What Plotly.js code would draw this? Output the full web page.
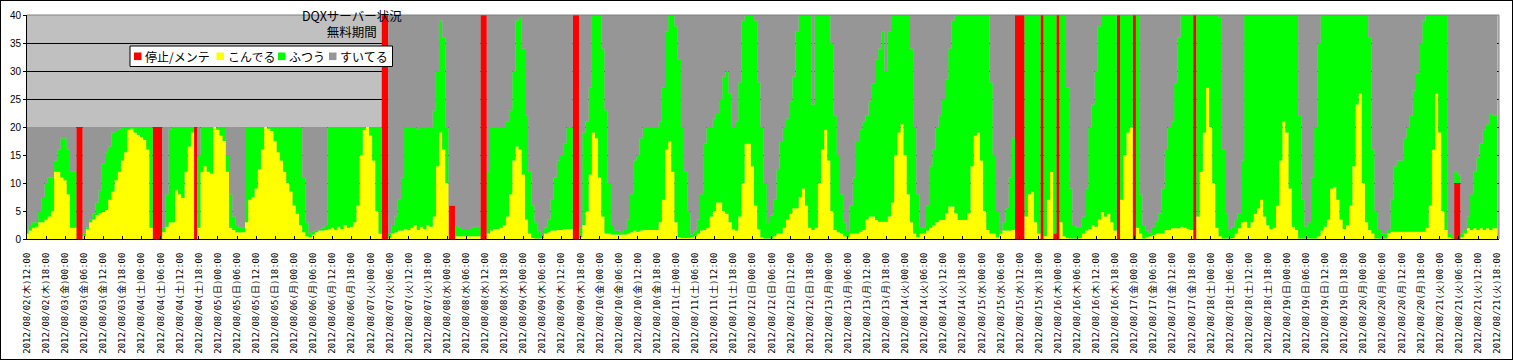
<!DOCTYPE html>
<html><head><meta charset="utf-8">
<script src="https://cdn.plot.ly/plotly-3.0.1.min.js"></script>
<style>
html,body{margin:0;padding:0;background:#fff;}
#wrap{position:relative;width:1513px;height:360px;overflow:hidden;}
#chart{position:absolute;left:0;top:0;width:1513px;height:360px;}
#frame{position:absolute;left:0;top:0;width:1513px;height:360px;box-sizing:border-box;border:1px solid #000;pointer-events:none;}
</style></head><body>
<div id="wrap"><div id="chart"></div><div id="frame"></div></div>
<script>
// ---------- data ----------
const chartTitle = ['DQXサーバー状況', '無料期間'];
const seriesNames = ['停止/メンテ', 'こんでる', 'ふつう', 'すいてる'];
const seriesColors = ['#FF0000', '#FFFF00', '#00FF00', '#969696'];
const startTime = '2012-08-02T12:00:00Z';   // first hourly sample
const weekdayNames = ['日', '月', '火', '水', '木', '金', '土'];
const serverCountBefore = 20;
const serverCountAfter = 40;
const serverIncreaseHour = 112;
const yTickValues = [0, 5, 10, 15, 20, 25, 30, 35, 40];

// こんでる (hourly)
const konderu = [
 1,1.5,2,2.2,3,3,3.5,4,5,12,12,11,10.5,8,2,2,0,0,0.5,1.8,3,3.5,4.3,4.6,
 4.9,5.2,7,8.5,10.5,12,14,15.5,19.5,19.7,19,18.6,18.2,17.7,16,2,0,0,0,1.2,2.2,3,3,8.7,
 8,7.3,12,16.5,19,0,2,12,13,12,11.7,20,19.5,18.5,17.5,12,2,1.6,1.2,1.2,1.2,3,7,7.5,
 9,12.5,16,20,19.7,19.3,17.5,15.5,14,12,10,8.5,6,4.5,2.5,1.2,0.5,0.3,0.8,1.2,1.5,1.5,1.6,1.8,
 2,1.6,2.2,1.8,2.5,2,2.2,3,6,15,19.5,20,18.5,14,5,1,0,0,0.2,1,1.2,1.5,1.5,1.8,
 1.6,2,2.5,1.6,2.2,1.8,2.5,2.2,4,13,19,16,10,0,0,0.5,0.5,0.5,0.5,0.5,0.5,0.5,0.5,0,
 0,1,1.5,1.8,1.8,2,2.5,4,8,14,16.5,16,11.5,3.5,1,0.2,0.1,0.1,0.2,1,1.2,1.5,1.5,1.6,
 1.6,1.8,1.8,1.8,0,0,0.3,2.5,5,11.5,19,18,11,4,1,1,0.8,0.8,0.8,0.8,0.8,1,1.2,1.5,
 1.3,1.5,1.6,1.6,1.6,1.6,1.6,3,7,16,17.5,12,3,0.3,0.2,0.2,0.2,0.3,0.5,1,1.5,1.6,2,4,
 5,6.5,6.5,5,4.5,3,1.8,1.5,4,10,17,17,13,6,1.8,0.3,0.1,0.1,0.1,0.5,1,1,2,3.5,
 4.5,5.5,5.5,7.5,9,6,2,1.6,2,10,16,19.5,14,5,1.6,1.2,1,0.5,0.3,1,1,1,1.3,1.6,
 3.5,4,4,3.4,3.1,3.1,3.1,4,6.5,15,19,20.5,15,8,3,1,0.3,1,1,1.5,2,2.5,3,3.4,
 3.4,4.6,5.8,5.8,4.6,3.4,3.4,3.4,4.6,13,18.5,19,14,5,1.6,1,1,0.3,1,1.5,1.5,1.5,1.6,0,
 0,0,4,8,8.5,3,1,0,0.5,7,12,0,0,3,0.5,0.2,0.1,0.1,0.1,0.2,1,1.5,1.8,2.5,
 2.2,3.5,4.8,4,4.5,3,1.5,0,7,15,19,20,0,2,1,0.1,0.3,0.5,0.7,1,1,1,1.6,1.6,
 1.9,1.9,1.9,2.2,2,1.8,1.6,0,4,12,19,27,20,10,2,0.5,0.1,0.1,0.1,0.2,1,1.9,3,3.1,
 2,3,4.5,5.5,7,4,2.5,1.8,2,6,14,21,19,9,2.2,1.6,0.1,0.1,0.1,0.1,0.1,0.1,0.5,1.5,
 2.2,3.5,9,9.3,7,3.5,1.8,2.5,6,13,24,26,10,3,1.6,1,0.1,0.1,0.1,0.1,1,1.3,1.3,1.3,
 1.3,1.3,1.3,1.3,1.3,1.3,1.3,1.3,2,6,16,26,19,5,1.6,0.3,0.1,0,0,0.3,1,1.9,1.6,1.9,
 1.6,1.9,1.6,1.9,1.6,1.9,1.9
];

// ふつう (hourly)
const futsu = [
 0.5,1,1,0.8,2,4.5,6.5,7,6,2,4,7,7.5,8,10,10,0,0,0.5,0.2,0.5,1.1,2.2,4.1,
 8.6,10.3,9.5,10.5,8.8,7.5,5.8,4.5,0.5,0.3,1,1.4,1.8,2.3,4,18,0,0,0,0.8,5.8,16.5,17,11.3,
 12,12.7,8,3.5,1,0,13,8,7,8,8.3,0,0.5,1.5,2.5,3,6,2.4,1.3,0.8,0.8,17,13,12.5,
 11,7.5,4,0,0.3,0.7,2.5,4.5,6,8,10,11.5,14,15.5,17.5,9.8,2.5,0.7,0.5,0.3,0.3,0.5,0.9,18.2,
 18,18.4,17.8,18.2,17.5,18,17.8,17,14,5,0.5,0,1.5,6,15,19,0,0,0.8,1.5,2.8,5.5,9.5,18.2,
 18.4,18,17.5,17.9,17.8,18.2,17.5,17.8,19,17,20,20,10,0,0,2,1.5,1.1,1.1,1.1,1.5,1.7,1.7,0,
 0,11,18.5,18.2,18.2,18,17.5,17,15,16,22.5,23.5,22.5,18.5,11,5.8,2.9,1.4,0.3,1,2.3,5.5,9.5,12.4,
 13.4,15.2,18.2,18.2,0,0,1.7,16.5,16,15.5,21,22,29,30,22,9,1.7,0.7,0.7,0.4,0.8,2.5,6.8,12.5,
 13.7,16.5,18.4,18.4,18.4,18.4,18.4,18,20,21,22.5,28,35,31.7,19.8,11.8,4.8,0.5,1,2.5,6.5,15.4,18,16,
 16.5,16,18.5,24,25.5,23,18.2,19.5,24,29,23,23,27,33,26.2,19.7,9.9,2.9,4.1,6.5,11.5,16.5,18,18,
 20,23.5,31.5,32.5,31,34,38,22.4,38,30,24,20.5,26,30,20.4,13.8,7,2.5,1.2,5,10,16.5,18.2,19.4,
 18.5,20.5,23.8,28.6,30.9,33.9,26.9,33,33.5,25,21,19.5,25,32,31,19,7.7,1,1,4.5,11,13.5,17,18.6,
 21.6,23.9,28.2,33.2,35.4,36.6,36.6,36.6,35.4,27,21.5,21,26,35,38.4,27,14,4.7,0.5,1.5,4,9.5,16.4,0,
 0,0,36,32,31.5,37,39,0,39.5,33,28,39,0,37,39.5,26.8,8.9,2.4,1.9,2,3,7.5,18.2,21.5,
 27.8,34.5,35.2,36,35.5,37,38.5,0,33,25,21,20,0,38,7,2.4,1.2,0.5,1.5,2.1,3.6,8,14.3,18.4,
 19.1,25.9,34.1,37.8,38,38.2,38.4,0,36,28,21,13,20,30,38,39,15.9,4.5,1.5,2,2.4,2.7,11,36.9,
 38,37,35.5,34.5,33,36,37.5,38.2,38,34,26,19,21,31,37.8,38.4,21.9,6.9,2.1,2.9,10.9,19.9,34.5,38.5,
 37.8,36.5,31,30.7,33,36.5,38.2,37.5,34,27,16,14,30,37,34.4,15,4.9,1.5,0.9,0.9,0.6,5.7,11.7,12.7,
 12.7,16.7,18.7,20.7,25.2,28.2,33.7,37.7,38,34,24,14,21,35,38.4,0.7,0.4,2,1.5,0.7,0.6,2.1,6.4,10.1,
 12.9,15.1,17.9,18.6,20.9,20.1,20.1
];

// 停止/メンテ (hour index -> servers down)
const teishiHours  = [16,17,40,41,42,53,112,113,133,134,143,144,172,173,311,312,313,319,323,324,343,348,367,449,450];
const teishiValues = [20,20,20,20,20,20,40,40,6,6,40,40,40,40,40,40,40,40,1,40,40,40,40,10,10];

// ---------- derived ----------
const HOUR = 3600e3;
const t0 = Date.parse(startTime);
const pad = v => String(v).padStart(2, '0');
const isoOf = ms => { const d = new Date(ms); return d.getUTCFullYear() + '-' + pad(d.getUTCMonth() + 1) + '-' + pad(d.getUTCDate()) + ' ' + pad(d.getUTCHours()) + ':' + pad(d.getUTCMinutes()); };
const n = konderu.length;
const times = konderu.map((_, i) => isoOf(t0 + i * HOUR));
const teishi = new Array(n).fill(0);
teishiHours.forEach((h, k) => { teishi[h] = teishiValues[k]; });
const suiteru = times.map((_, i) => Math.max(0, (i < serverIncreaseHour ? serverCountBefore : serverCountAfter) - teishi[i] - konderu[i] - futsu[i]));

const tickValues = [], tickLabels = [];
for (let h = 0; h < n; h += 6) {
  const d = new Date(t0 + h * HOUR);
  tickValues.push(isoOf(t0 + h * HOUR));
  tickLabels.push(d.getUTCFullYear() + '/' + pad(d.getUTCMonth() + 1) + '/' + pad(d.getUTCDate()) + '(' + weekdayNames[d.getUTCDay()] + ')' + pad(d.getUTCHours()) + ':' + pad(d.getUTCMinutes()));
}

// ---------- layout geometry ----------
const W = 1513, H = 360;
const M = {l: 27, r: 14, t: 15, b: 121};
const plotW = W - M.l - M.r, plotH = H - M.t - M.b;
const px = v => (v - M.l) / plotW;
const py = v => (H - M.b - v) / plotH;

const seriesY = [teishi, konderu, futsu, suiteru];
const traces = seriesY.map((arr, k) => ({
  type: 'scatter', mode: 'lines', x: times, y: arr, name: seriesNames[k],
  stackgroup: 'all', line: {width: 0, shape: 'hvh', color: seriesColors[k]},
  fillcolor: seriesColors[k], showlegend: false, hoverinfo: 'skip'
}));

const jpFont = 'Noto Sans CJK JP, sans-serif';
const shapes = [
  {type: 'line', xref: 'paper', yref: 'paper', x0: 0, x1: 1, y0: 1, y1: 1, line: {color: '#808080', width: 1}, layer: 'above'},
  {type: 'line', xref: 'paper', yref: 'paper', x0: 1, x1: 1, y0: 0, y1: 1, line: {color: '#808080', width: 1}, layer: 'above'},
  {type: 'rect', xref: 'paper', yref: 'paper', x0: px(130), x1: px(392.5), y0: py(66.5), y1: py(46), fillcolor: '#FFFFFF', line: {color: '#000', width: 1}, layer: 'above'}
];
const legendKeyX = [134, 216.5, 278, 329];
const legendY = 56.3;
const annotations = [
  {xref: 'paper', yref: 'paper', x: px(352), y: py(24), text: chartTitle.join('<br>'), showarrow: false, align: 'center', xanchor: 'center', yanchor: 'middle', font: {family: jpFont, size: 12.5, color: '#000'}}
];
seriesNames.forEach((name, k) => {
  shapes.push({type: 'rect', xref: 'paper', yref: 'paper', x0: px(legendKeyX[k]), x1: px(legendKeyX[k] + 7.5), y0: py(legendY + 3.8), y1: py(legendY - 3.8), fillcolor: seriesColors[k], line: {width: 0}, layer: 'above'});
  annotations.push({xref: 'paper', yref: 'paper', x: px(legendKeyX[k] + 9), y: py(legendY), text: name, showarrow: false, xanchor: 'left', yanchor: 'middle', font: {family: jpFont, size: 12, color: '#000'}});
});

const layout = {
  width: W, height: H, margin: M, paper_bgcolor: '#FFFFFF', plot_bgcolor: '#C0C0C0',
  showlegend: false, hovermode: false,
  xaxis: {
    type: 'date', range: [isoOf(t0), isoOf(t0 + 462.6 * HOUR)],
    tickmode: 'array', tickvals: tickValues, ticktext: tickLabels, tickangle: -90,
    ticks: 'inside', ticklen: 3, tickcolor: '#000', tickwidth: 1,
    showline: true, linecolor: '#000', linewidth: 1, showgrid: false, zeroline: false,
    ticklabelstandoff: 9,
    tickfont: {family: 'DejaVu Sans Mono, Noto Sans CJK JP, monospace', size: 9, color: '#000'}, fixedrange: true
  },
  yaxis: {
    range: [0, 40], tickmode: 'array', tickvals: yTickValues,
    showgrid: true, gridcolor: '#000000', gridwidth: 1,
    ticks: 'outside', ticklen: 3, tickcolor: '#000',
    showline: true, linecolor: '#000', linewidth: 1, zeroline: false,
    tickfont: {family: 'Liberation Sans, Arial, sans-serif', size: 10, color: '#000'}, fixedrange: true
  },
  shapes: shapes, annotations: annotations
};

Plotly.newPlot('chart', traces, layout, {displayModeBar: false, staticPlot: true});
</script>
</body></html>
